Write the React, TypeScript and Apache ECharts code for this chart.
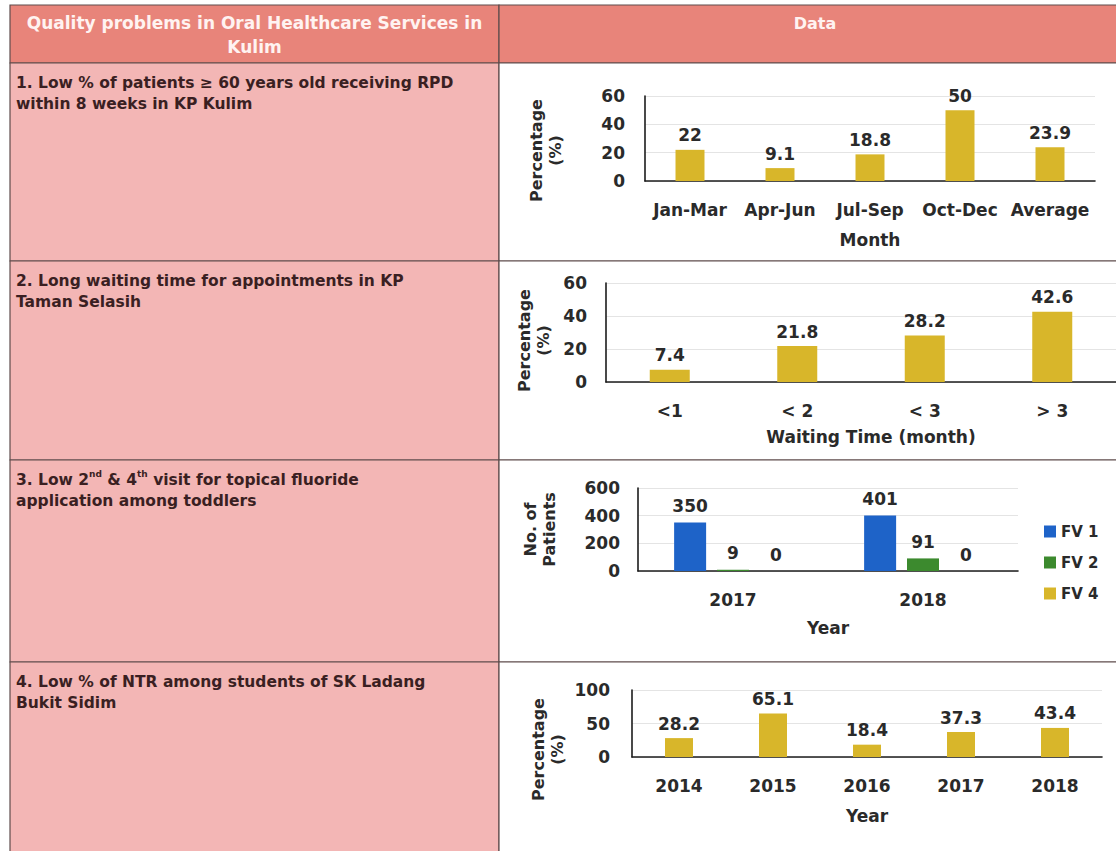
import { useEffect, useRef } from 'react';
import * as echarts from 'echarts';

// ---- table texts ----
const headerProblem = 'Quality problems in Oral Healthcare Services in\nKulim';
const headerData = 'Data';
const problems = [
  '1. Low % of patients ≥ 60 years old receiving RPD\nwithin 8 weeks in KP Kulim',
  '2. Long waiting time for appointments in KP\nTaman Selasih',
  '3. Low 2{sup|nd} & 4{sup|th} visit for topical fluoride\napplication among toddlers',
  '4. Low % of NTR among students of SK Ladang\nBukit Sidim',
];

// ---- chart 1: RPD within 8 weeks ----
const rpdPeriods = ['Jan-Mar', 'Apr-Jun', 'Jul-Sep', 'Oct-Dec', 'Average'];
const rpdPercent = [22, 9.1, 18.8, 50, 23.9];
const rpdTicks = [0, 60, 20];

// ---- chart 2: waiting time ----
const waitBands = ['<1', '< 2', '< 3', '> 3'];
const waitPercent = [7.4, 21.8, 28.2, 42.6];
const waitTicks = [0, 60, 20];

// ---- chart 3: fluoride visits ----
const fvYears = ['2017', '2018'];
const fv1Patients = [350, 401];
const fv2Patients = [9, 91];
const fv4Patients = [0, 0];
const fvTicks = [0, 600, 200];

// ---- chart 4: NTR ----
const ntrYears = ['2014', '2015', '2016', '2017', '2018'];
const ntrPercent = [28.2, 65.1, 18.4, 37.3, 43.4];
const ntrTicks = [0, 100, 50];

const FONT = 'DejaVu Sans';
const INK = '#2a2a2a';
const GOLD = '#D8B62A';
const BLUE = '#1E63C8';
const GREEN = '#3C8A2E';

const TABLE_LEFT = 10;
const COL_SPLIT = 499;
const TABLE_RIGHT = 1131;
const ROW_EDGES = [5, 63, 261, 460, 662, 862];

function buildTable() {
  const els: any[] = [];
  const border = { stroke: '#5f4c4c', lineWidth: 1.2 };
  els.push({
    type: 'rect', z: -10,
    shape: { x: TABLE_LEFT, y: ROW_EDGES[0], width: COL_SPLIT - TABLE_LEFT, height: ROW_EDGES[1] - ROW_EDGES[0] },
    style: { fill: '#E8847A', ...border },
  });
  els.push({
    type: 'rect', z: -10,
    shape: { x: COL_SPLIT, y: ROW_EDGES[0], width: TABLE_RIGHT - COL_SPLIT, height: ROW_EDGES[1] - ROW_EDGES[0] },
    style: { fill: '#E8847A', ...border },
  });
  for (let i = 1; i < ROW_EDGES.length - 1; i++) {
    const y = ROW_EDGES[i];
    const h = ROW_EDGES[i + 1] - y;
    els.push({
      type: 'rect', z: -10,
      shape: { x: TABLE_LEFT, y, width: COL_SPLIT - TABLE_LEFT, height: h },
      style: { fill: '#F3B6B5', ...border },
    });
    els.push({
      type: 'rect', z: -10,
      shape: { x: COL_SPLIT, y, width: TABLE_RIGHT - COL_SPLIT, height: h },
      style: { fill: '#ffffff', ...border },
    });
    els.push({
      type: 'text', z: 5,
      x: 16, y: y + 9,
      style: {
        text: problems[i - 1],
        fill: '#3a1f22',
        fontFamily: FONT, fontWeight: 'bold', fontSize: 15.5,
        lineHeight: 21,
        align: 'left', verticalAlign: 'top',
        rich: {
          sup: { fontSize: 9, fontFamily: FONT, fontWeight: 'bold', fill: '#3a1f22', verticalAlign: 'top', lineHeight: 13 },
        },
      },
    });
  }
  els.push({
    type: 'text', z: 5,
    x: (TABLE_LEFT + COL_SPLIT) / 2, y: 35,
    style: {
      text: headerProblem, fill: '#fff3f1',
      fontFamily: FONT, fontWeight: 'bold', fontSize: 17, lineHeight: 24,
      align: 'center', verticalAlign: 'middle',
    },
  });
  els.push({
    type: 'text', z: 5,
    x: 815, y: 23,
    style: {
      text: headerData, fill: '#fff3f1',
      fontFamily: FONT, fontWeight: 'bold', fontSize: 16,
      align: 'center', verticalAlign: 'middle',
    },
  });
  return els;
}

const textBase = { color: INK, fontFamily: FONT, fontWeight: 'bold' as const };

function catAxis(gridIndex: number, data: string[], name: string, nameGap: number, shiftX = 0) {
  return {
    type: 'category', gridIndex, data,
    axisLine: { show: true, lineStyle: { color: '#1c1c1c', width: 1.6 } },
    axisTick: { show: false },
    axisLabel: { ...textBase, fontSize: 17, margin: 20, interval: 0 },
    name, nameLocation: 'middle', nameGap,
    nameTextStyle: { ...textBase, fontSize: 17, padding: shiftX > 0 ? [0, 0, 0, shiftX * 2] : 0 },
  };
}

function valAxis(gridIndex: number, ticks: number[], name: string, nameGap: number, shiftDown: number, margin: number) {
  return {
    type: 'value', gridIndex, min: ticks[0], max: ticks[1], interval: ticks[2],
    axisLine: { show: true, lineStyle: { color: '#1c1c1c', width: 1.6 } },
    axisTick: { show: false },
    splitLine: { show: true, lineStyle: { color: '#e4e4e4', width: 1 } },
    axisLabel: { ...textBase, fontSize: 17, margin },
    name, nameLocation: 'middle', nameRotate: 90, nameGap,
    nameTextStyle: { ...textBase, fontSize: 16, lineHeight: 19, padding: shiftDown > 0 ? [0, shiftDown * 2, 0, 0] : 0 },
  };
}

const barLabel = (distance: number) => ({
  show: true, position: 'top', distance, ...textBase, fontSize: 17,
});

export default function App() {
  const ref = useRef<HTMLDivElement>(null);

  useEffect(() => {
    if (!ref.current) return;
    const chart = echarts.init(ref.current, undefined, { renderer: 'svg' });
    chart.setOption({
      animation: false,
      backgroundColor: '#ffffff',
      graphic: { elements: buildTable() },
      grid: [
        { left: 645, top: 96, width: 450, height: 85 },
        { left: 606, top: 283, width: 524, height: 99 },
        { left: 638, top: 488, width: 380, height: 83 },
        { left: 632, top: 690, width: 470, height: 67 },
      ],
      xAxis: [
        catAxis(0, rpdPeriods, 'Month', 50),
        catAxis(1, waitBands, 'Waiting Time (month)', 46, 10),
        catAxis(2, fvYears, 'Year', 48),
        catAxis(3, ntrYears, 'Year', 50),
      ],
      yAxis: [
        valAxis(0, rpdTicks, 'Percentage\n(%)', 80, 12, 20),
        valAxis(1, waitTicks, 'Percentage\n(%)', 53, 8, 19),
        valAxis(2, fvTicks, 'No. of\nPatients', 79, 0, 18),
        valAxis(3, ntrTicks, 'Percentage\n(%)', 65, 26, 22),
      ],
      legend: {
        data: ['FV 1', 'FV 2', 'FV 4'],
        orient: 'vertical',
        left: 1039, top: 519,
        itemWidth: 12, itemHeight: 12, itemGap: 16,
        icon: 'rect',
        textStyle: { ...textBase, fontSize: 15 },
      },
      series: [
        {
          type: 'bar', name: 'RPD within 8 weeks', xAxisIndex: 0, yAxisIndex: 0,
          data: rpdPercent, barWidth: 29, itemStyle: { color: GOLD }, label: barLabel(6),
        },
        {
          type: 'bar', name: 'Waiting time', xAxisIndex: 1, yAxisIndex: 1,
          data: waitPercent, barWidth: 40, itemStyle: { color: GOLD }, label: barLabel(6),
        },
        {
          type: 'bar', name: 'FV 1', xAxisIndex: 2, yAxisIndex: 2,
          data: fv1Patients, barWidth: 32, barGap: '34%', itemStyle: { color: BLUE }, label: barLabel(8),
        },
        {
          type: 'bar', name: 'FV 2', xAxisIndex: 2, yAxisIndex: 2,
          data: fv2Patients, barWidth: 32, barGap: '34%', itemStyle: { color: GREEN }, label: barLabel(8),
        },
        {
          type: 'bar', name: 'FV 4', xAxisIndex: 2, yAxisIndex: 2,
          data: fv4Patients, barWidth: 32, barGap: '34%', itemStyle: { color: GOLD }, label: barLabel(8),
        },
        {
          type: 'bar', name: 'NTR', xAxisIndex: 3, yAxisIndex: 3,
          data: ntrPercent, barWidth: 28, itemStyle: { color: GOLD }, label: barLabel(6),
        },
      ],
    });
    return () => chart.dispose();
  }, []);

  return (
    <div
      ref={ref}
      style={{ position: 'absolute', left: 0, top: 0, width: 1116, height: 851 }}
    />
  );
}
